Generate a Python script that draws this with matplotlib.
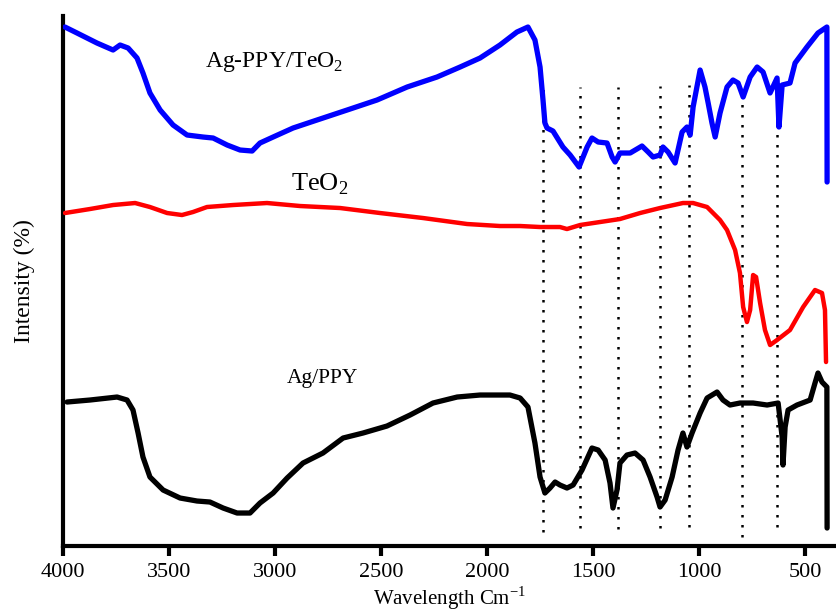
import numpy as np
import matplotlib
matplotlib.use("Agg")
import matplotlib.pyplot as plt

plt.rcParams['font.family'] = ['Liberation Serif', 'DejaVu Serif']
plt.rcParams['mathtext.fontset'] = 'custom'
plt.rcParams['mathtext.rm'] = 'Liberation Serif'

# Ag-PPY/TeO2 (blue)
wn_blue = [3991, 3934, 3840, 3764, 3731, 3693, 3651, 3623, 3590, 3542, 3481, 3415, 3340,
           3292, 3226, 3165, 3108, 3071, 3009, 2915, 2802, 2660, 2519, 2377, 2236, 2127,
           2033, 1939, 1859, 1807, 1774, 1750, 1736, 1727, 1717, 1689, 1642, 1608, 1566,
           1528, 1505, 1476, 1434, 1410, 1396, 1373, 1325, 1269, 1240, 1217, 1184, 1170,
           1146, 1113, 1080, 1057, 1042, 1028, 995, 972, 957, 939, 924, 901, 868, 840,
           816, 792, 759, 726, 698, 665, 632, 623, 608, 571, 547, 491, 439, 397, 396]
int_blue = [519, 513, 503, 496, 501, 498, 488, 473, 453, 436, 421, 411, 409,
            408, 401, 396, 395, 403, 409, 418, 426, 436, 446, 459, 469, 479,
            488, 501, 514, 519, 506, 479, 446, 423, 418, 415, 399, 391, 379,
            399, 408, 404, 403, 389, 384, 393, 393, 400, 394, 389, 391, 399,
            394, 383, 414, 419, 411, 439, 476, 459, 443, 423, 409, 433, 459, 466,
            463, 449, 469, 479, 474, 453, 468, 419, 461, 463, 483, 499, 513, 519, 364]

# TeO2 (red)
wn_red = [3991, 3873, 3764, 3660, 3590, 3509, 3439, 3387, 3321, 3198, 3038, 2882, 2693,
          2505, 2302, 2094, 1939, 1844, 1750, 1656, 1623, 1561, 1467, 1373, 1278, 1184,
          1076, 1028, 962, 901, 868, 830, 807, 792, 774, 759, 745, 731, 712, 689, 665,
          632, 571, 509, 453, 420, 406, 401]
int_red = [333, 337, 341, 343, 339, 333, 331, 334, 339, 341, 343, 340, 338,
           333, 328, 322, 320, 320, 319, 319, 317, 321, 324, 327, 333, 338,
           343, 343, 339, 326, 316, 296, 273, 239, 224, 236, 271, 269, 243, 216, 201,
           206, 216, 239, 256, 253, 236, 184]

# Ag/PPY (black)
wn_black = [3981, 3873, 3745, 3698, 3670, 3646, 3623, 3590, 3528, 3448, 3368, 3307, 3245,
            3179, 3118, 3071, 3009, 2943, 2868, 2774, 2679, 2585, 2472, 2363, 2255, 2141,
            2033, 1892, 1844, 1807, 1774, 1750, 1727, 1703, 1679, 1656, 1623, 1594, 1552,
            1505, 1476, 1443, 1420, 1406, 1387, 1373, 1340, 1302, 1264, 1231, 1198, 1184,
            1160, 1127, 1099, 1076, 1057, 1033, 995, 962, 915, 887, 854, 807, 745, 679,
            627, 608, 604, 594, 580, 538, 476, 453, 439, 420, 397, 396]
int_black = [144, 146, 149, 146, 136, 113, 89, 69, 56, 48, 45, 44, 38,
             33, 33, 43, 53, 68, 83, 93, 108, 113, 120, 131, 143, 149,
             151, 151, 148, 139, 103, 69, 53, 58, 64, 61, 58, 61, 76,
             98, 96, 86, 63, 38, 56, 83, 91, 93, 86, 69, 49, 39,
             46, 69, 96, 113, 99, 113, 133, 148, 154, 146, 141, 143, 143, 141,
             143, 109, 81, 119, 136, 141, 146, 163, 173, 164, 159, 18]

# marked bands (dotted guides)
band_wn = [1736, 1561, 1382, 1184, 1047, 797, 632]
band_top = [458, 459, 459, 460, 461, 449, 461]
band_bottom = [14, 18, 17, 18, 19, 9, 19]

fig = plt.figure(figsize=(8.36, 6.16), dpi=100)
ax = fig.add_axes([0.0754, 0.1136, 0.9246, 0.8604])

for w, t, b in zip(band_wn, band_top, band_bottom):
    ax.plot([w, w], [b, t], color='black', linestyle=(0, (1, 3)), lw=1.8, zorder=1)

style = dict(solid_joinstyle='round', solid_capstyle='round', zorder=3)
ax.plot(wn_blue, int_blue, color='#0000ff', lw=3.8, **style)
ax.plot(wn_red, int_red, color='#ff0000', lw=3.2, **style)
ax.plot(wn_black, int_black, color='black', lw=3.8, **style)

ax.text(3005, 479, 'Ag-PPY/TeO$_2$', fontsize=17, ha='center', va='baseline')
ax.text(2792, 356, 'TeO$_2$', fontsize=19, ha='center', va='baseline')
ax.text(2778, 163, 'Ag/PPY', fontsize=15.5, ha='center', va='baseline')

ax.set_xlim(4000, 354)
ax.set_ylim(0, 530)
ax.set_xticks([4000, 3500, 3000, 2500, 2000, 1500, 1000, 500])
ax.set_yticks([])
ax.tick_params(axis='x', direction='out', length=7, width=3, labelsize=16, pad=5)
for s in ['top', 'right']:
    ax.spines[s].set_visible(False)
for s in ['left', 'bottom']:
    ax.spines[s].set_linewidth(3)

ax.set_xlabel('Wavelength Cm$^{-1}$', fontsize=15, labelpad=2)
ax.set_ylabel('Intensity (%)', fontsize=17, labelpad=20)

fig.savefig('out.png', dpi=100)
